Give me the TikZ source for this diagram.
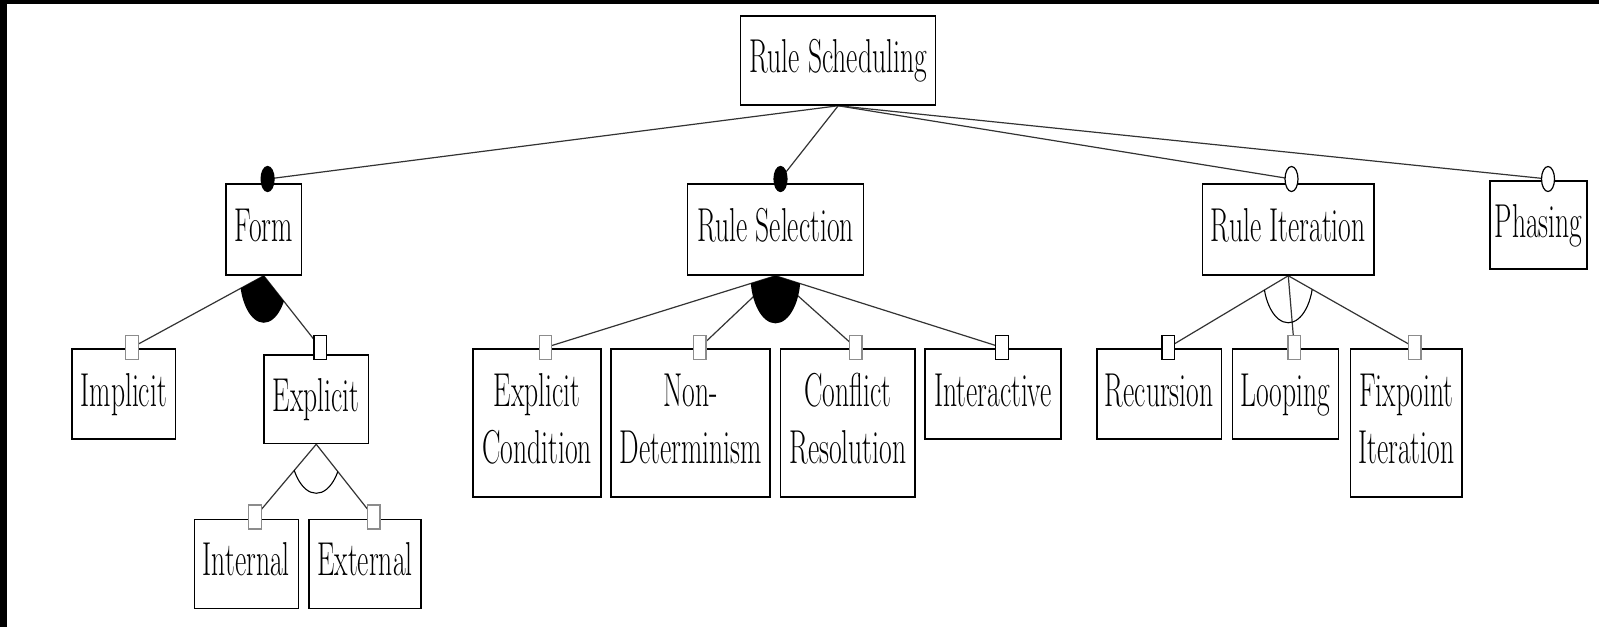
\documentclass[tikz,border=0pt]{standalone}
\usepackage{fontspec}
\usepackage{graphicx}
\usetikzlibrary{calc,shapes.geometric}
\pgfdeclarelayer{canvas}
\pgfdeclarelayer{background}
\pgfsetlayers{canvas,background,main}
% narrow lettering used throughout the diagram
\newcommand{\nar}[1]{\scalebox{0.58}[1]{#1}}
\tikzset{
  feat/.style={draw=black, line width=0.75pt, fill=white, inner sep=0pt,
    font=\fontsize{23.8}{28.5}\selectfont, align=center,
    text height=18pt, text depth=6pt},
  feattwo/.style={feat, text height=46.5pt},
  port/.style={draw=black!45, line width=0.6pt, fill=white, inner sep=0pt,
    minimum width=6.25pt, minimum height=12pt},
  portdark/.style={port, draw=black},
  mand/.style={ellipse, draw=black, fill=black, line width=0.6pt, inner sep=0pt,
    minimum width=6.5pt, minimum height=12.5pt},
  opt/.style={mand, fill=white},
  conn/.style={draw=black!80, line width=0.6pt},
}
\begin{document}
\begin{tikzpicture}[x=0.5pt, y=-0.5pt]
\useasboundingbox (0,0) rectangle (1599,627);
\begin{pgfonlayer}{canvas}
  \fill[white] (0,0) rectangle (1599,627);
  \fill[black] (0,0) rectangle (1599,4);
  \fill[black] (0,0) rectangle (7,627);
\end{pgfonlayer}

% root
\node[feat, minimum width=97.5pt, minimum height=44.5pt] (sched) at (838.2,60.5) {\nar{Rule Scheduling}};

% first level
\node[feat, minimum width=37.75pt, minimum height=45.5pt] (form) at (263.75,229.5) {\nar{Form}};
\node[feat, minimum width=87.8pt, minimum height=45.5pt] (sel) at (775.5,229.5) {\nar{Rule Selection}};
\node[feat, minimum width=85.75pt, minimum height=45.5pt] (iter) at (1288.25,229.5) {\nar{Rule Iteration}};
\node[feat, minimum width=48.5pt, minimum height=44pt] (phas) at (1538.5,225) {\nar{Phasing}};

% second level
\node[feat, minimum width=51.75pt, minimum height=45pt] (impl) at (123.75,394) {\nar{Implicit}};
\node[feat, minimum width=52.25pt, minimum height=44.25pt] (expl) at (316.25,399.25) {\nar{Explicit}};
\node[feattwo, minimum width=64pt, minimum height=74pt] (econd) at (537,423) {\nar{Explicit}\\\nar{Condition}};
\node[feattwo, minimum width=79.5pt, minimum height=74pt] (nondet) at (690.5,423) {\nar{Non-}\\\nar{Determinism}};
\node[feattwo, minimum width=67.15pt, minimum height=74pt] (confl) at (847.85,423) {\nar{Conflict}\\\nar{Resolution}};
\node[feat, minimum width=68pt, minimum height=45pt] (inter) at (993,394) {\nar{Interactive}};
\node[feat, minimum width=62.4pt, minimum height=45pt] (recur) at (1159.2,394) {\nar{Recursion}};
\node[feat, minimum width=52.9pt, minimum height=45pt] (loop) at (1285.5,394) {\nar{Looping}};
\node[feattwo, minimum width=55.85pt, minimum height=74pt] (fixp) at (1406.35,423) {\nar{Fixpoint}\\\nar{Iteration}};

% third level
\node[feat, minimum width=52pt, minimum height=44.5pt] (intern) at (246.3,563.8) {\nar{Internal}};
\node[feat, minimum width=56pt, minimum height=44.5pt] (extern) at (365,563.8) {\nar{External}};

% connection ports of the sub-features
\node[port] (p-impl) at (132,347.5) {};
\node[portdark] (p-expl) at (320.3,347.5) {};
\node[port] (p-econd) at (545.5,347.5) {};
\node[port] (p-nondet) at (699.7,347.5) {};
\node[port] (p-confl) at (855.7,347.5) {};
\node[portdark] (p-inter) at (1002,347.5) {};
\node[portdark] (p-recur) at (1168.3,347.5) {};
\node[port] (p-loop) at (1294.3,347.5) {};
\node[port] (p-fixp) at (1414.8,347.5) {};
\node[port] (p-intern) at (255,517) {};
\node[port] (p-extern) at (373.7,517) {};

% mandatory and optional markers
\node[mand] (c-form) at (267.6,179) {};
\node[mand] (c-sel) at (780.5,179) {};
\node[opt] (c-iter) at (1291.5,179) {};
\node[opt] (c-phas) at (1548,179) {};

\begin{pgfonlayer}{background}
  \draw[conn] (sched.south) -- (c-form.center);
  \draw[conn] (sched.south) -- (c-sel.center);
  \draw[conn] (sched.south) -- (c-iter.center);
  \draw[conn] (sched.south) -- (c-phas.center);
  \draw[conn] (form.south) -- (p-impl.center);
  \draw[conn] (form.south) -- (p-expl.center);
  \draw[conn] (expl.south) -- (p-intern.center);
  \draw[conn] (expl.south) -- (p-extern.center);
  \draw[conn] (sel.south) -- (p-econd.center);
  \draw[conn] (sel.south) -- (p-nondet.center);
  \draw[conn] (sel.south) -- (p-confl.center);
  \draw[conn] (sel.south) -- (p-inter.center);
  \draw[conn] (iter.south) -- (p-recur.center);
  \draw[conn] (iter.south) -- (p-loop.center);
  \draw[conn] (iter.south) -- (p-fixp.center);
\end{pgfonlayer}

% or-groups (filled) and alternative groups (open arc)
\begin{scope}
  \clip (form.south) -- ($(form.south)!3!(p-impl.center)$) -- ($(form.south)!3!(p-expl.center)$) -- cycle;
  \fill (form.south) ellipse [x radius=12pt, y radius=23.5pt];
\end{scope}
\begin{scope}
  \clip (sel.south) -- ($(sel.south)!3!(p-econd.center)$) -- ($(sel.south)!3!(p-inter.center)$) -- cycle;
  \fill (sel.south) ellipse [x radius=12.5pt, y radius=23.8pt];
\end{scope}
\begin{scope}
  \clip (expl.south) -- ($(expl.south)!3!(p-intern.center)$) -- ($(expl.south)!3!(p-extern.center)$) -- cycle;
  \draw[line width=0.55pt] (expl.south) ellipse [x radius=13pt, y radius=24.5pt];
\end{scope}
\begin{scope}
  \clip (iter.south) -- ($(iter.south)!3!(p-recur.center)$) -- ($(iter.south)!3!(p-fixp.center)$) -- cycle;
  \draw[line width=0.55pt] (iter.south) ellipse [x radius=12.5pt, y radius=23.5pt];
\end{scope}
\end{tikzpicture}
\end{document}
